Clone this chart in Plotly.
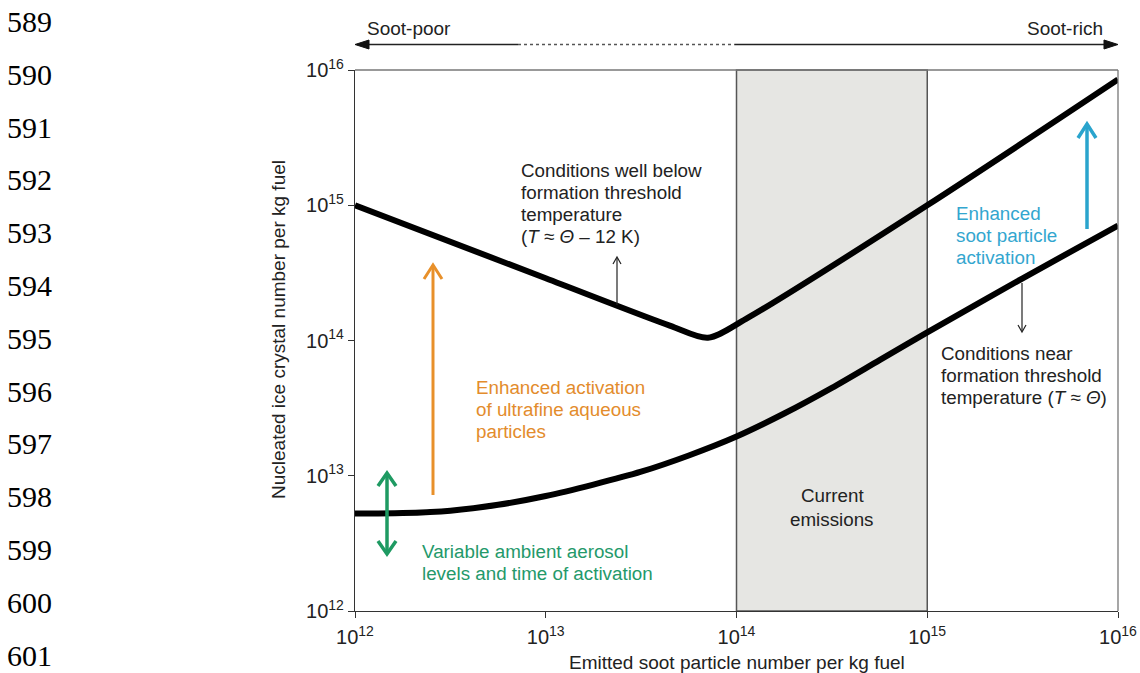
import numpy as np
import plotly.graph_objects as go

# ---------------- data (log10 values) ----------------
upper_logx = [12.0, 13.0, 13.65, 13.85, 14.05, 15.0, 16.0]
upper_logy = [15.0, 14.46, 14.11, 14.02, 14.16, 15.0, 15.93]

lower_logx = [12.0, 12.25, 12.5, 12.75, 13.0, 13.25, 13.5, 13.75, 14.0, 14.25, 14.5, 14.75, 15.0, 15.5, 16.0]
lower_logy = [12.72, 12.724, 12.742, 12.785, 12.85, 12.935, 13.03, 13.15, 13.29, 13.46, 13.65, 13.855, 14.06, 14.46, 14.85]

band_logx = [14, 15]          # current emissions range
tick_exps = [12, 13, 14, 15, 16]
line_numbers = list(range(589, 602))

# ---------------- geometry helpers ----------------
W, H = 1140, 673
L, R, T, B = 355, 1118, 70, 611
def px(x): return (x - L) / (R - L)
def py(y): return (B - y) / (B - T)

ORANGE = "#E8902A"
GREEN = "#1E9A62"
BLUE = "#2AA4CD"
FONT = "Liberation Sans, Arial, sans-serif"
ASIZE = 18.8

fig = go.Figure()
fig.add_trace(go.Scatter(x=[10 ** v for v in upper_logx], y=[10 ** v for v in upper_logy],
                         mode="lines", line=dict(color="black", width=6, shape="spline", smoothing=0.8),
                         hoverinfo="skip", showlegend=False))
fig.add_trace(go.Scatter(x=[10 ** v for v in lower_logx], y=[10 ** v for v in lower_logy],
                         mode="lines", line=dict(color="black", width=6, shape="spline", smoothing=0.8),
                         hoverinfo="skip", showlegend=False))

shapes = []
shapes.append(dict(type="rect", xref="paper", yref="paper",
                   x0=(band_logx[0] - 12) / 4, x1=(band_logx[1] - 12) / 4, y0=0, y1=1,
                   fillcolor="#E6E6E3", line=dict(color="#555555", width=1.5), layer="below"))
shapes.append(dict(type="line", xref="paper", yref="paper", x0=0, x1=1, y0=1, y1=1,
                   line=dict(color="#777777", width=1.3)))
shapes.append(dict(type="line", xref="paper", yref="paper", x0=1, x1=1, y0=0, y1=1,
                   line=dict(color="#777777", width=1.3)))

def seg(x0, y0, x1, y1, color, width, dash=None):
    d = dict(color=color, width=width)
    if dash:
        d["dash"] = dash
    shapes.append(dict(type="line", xref="paper", yref="paper",
                       x0=px(x0), y0=py(y0), x1=px(x1), y1=py(y1), line=d))

def chevron(pts, color, width):
    path = "M " + " L ".join(f"{px(a):.5f},{py(b):.5f}" for a, b in pts)
    shapes.append(dict(type="path", xref="paper", yref="paper", path=path,
                       line=dict(color=color, width=width)))

def tri(pts, color):
    path = "M " + " L ".join(f"{px(a):.5f},{py(b):.5f}" for a, b in pts) + " Z"
    shapes.append(dict(type="path", xref="paper", yref="paper", path=path,
                       fillcolor=color, line=dict(color=color, width=1)))

# soot-poor / soot-rich arrow on top
seg(366, 44.5, 518, 44.5, "#222222", 1.5)
tri([(355, 44.5), (369, 40), (369, 49)], "#111111")
seg(518, 44.5, 735, 44.5, "#555555", 1.5, dash="dot")
seg(735, 44.5, 1106, 44.5, "#222222", 1.5)
tri([(1118, 44.5), (1104, 40), (1104, 49)], "#111111")

# orange arrow
seg(433, 495, 433, 267, ORANGE, 3)
chevron([(424, 279), (433, 265), (442, 279)], ORANGE, 3)
# green double arrow
seg(387, 474, 387, 553, GREEN, 3.5)
chevron([(378, 486), (387, 473), (396, 486)], GREEN, 3.5)
chevron([(378, 541), (387, 554), (396, 541)], GREEN, 3.5)
# blue arrow
seg(1087, 229, 1087, 125, BLUE, 3.5)
chevron([(1078, 138), (1087, 124), (1096, 138)], BLUE, 3.5)
# thin black pointers
seg(617, 305, 617, 258, "#222222", 1.2)
chevron([(613, 264), (617, 257), (621, 264)], "#222222", 1.2)
seg(1022, 283, 1022, 331, "#222222", 1.2)
chevron([(1018, 325), (1022, 332), (1026, 325)], "#222222", 1.2)

ann = []
def text(x, y, s, color="#222222", xanchor="left", size=ASIZE, angle=0, family=FONT):
    ann.append(dict(x=px(x), y=py(y), xref="paper", yref="paper", text=s, showarrow=False,
                    xanchor=xanchor, yanchor="middle", textangle=angle, borderpad=0,
                    font=dict(family=family, size=size, color=color)))

def block(x, y_first, lines, color="#222222", xanchor="left", gap=22.3):
    for k, s in enumerate(lines):
        text(x, y_first + gap * k, s, color=color, xanchor=xanchor)

block(520, 170, ["Conditions well below", "formation threshold", "temperature",
                 "(<i>T</i> ≈ <i>Θ</i> – 12 K)"])
block(475, 387, ["Enhanced activation", "of ultrafine aqueous", "particles"], color="#E38C2C")
block(421, 551, ["Variable ambient aerosol", "levels and time of activation"], color="#24996A")
block(955, 213, ["Enhanced", "soot particle", "activation"], color="#33A6CF")
block(940, 353, ["Conditions near", "formation threshold", "temperature (<i>T</i> ≈ <i>Θ</i>)"])
block(832, 495.5, ["Current", "emissions"], xanchor="center", gap=23.5)
text(366, 28.5, "Soot-poor", size=19)
text(1104, 28.5, "Soot-rich", xanchor="right", size=19)
text(736.5, 663, "Emitted soot particle number per kg fuel", xanchor="center", size=19)
text(278, 330, "Nucleated ice crystal number per kg fuel", xanchor="center", angle=-90, size=19)

for i, n in enumerate(line_numbers):
    text(6, 21.5 + 52.8 * i, str(n), color="#000000", size=30,
         family="Liberation Serif, Times New Roman, serif")

tickvals = [10 ** e for e in tick_exps]
ticktext = [f"10<sup>{e}</sup>" for e in tick_exps]
axis_common = dict(type="log", range=[12, 16], tickvals=tickvals, ticktext=ticktext,
                   ticks="outside", ticklen=6, tickwidth=1.2, tickcolor="#333333",
                   showline=True, linecolor="#333333", linewidth=1.3,
                   showgrid=False, zeroline=False, automargin=False,
                   tickfont=dict(family=FONT, size=20, color="#222222"))

fig.update_layout(
    width=W, height=H,
    margin=dict(l=L, r=W - R, t=T, b=H - B),
    paper_bgcolor="white", plot_bgcolor="rgba(0,0,0,0)",
    xaxis=dict(axis_common, ticklabelstandoff=2), yaxis=axis_common,
    shapes=shapes, annotations=ann, showlegend=False,
)
fig.write_html("out.html")
